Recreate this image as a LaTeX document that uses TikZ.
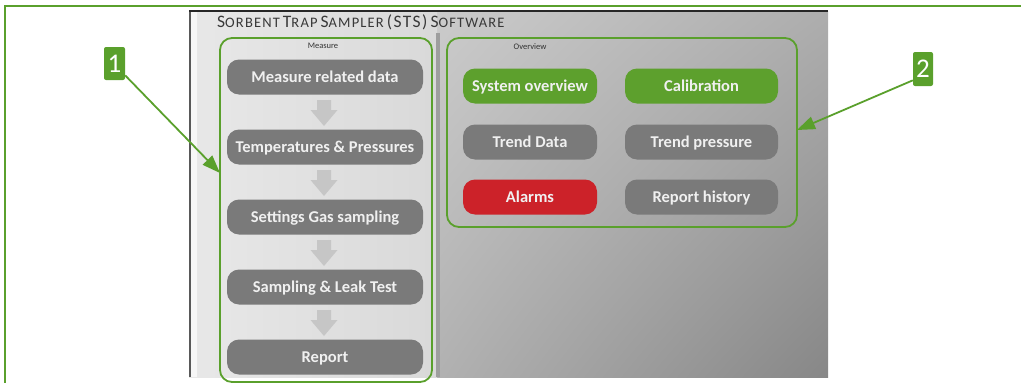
\documentclass[tikz,border=0pt]{standalone}
\usepackage{fontspec}
\setmainfont{Carlito}
\usetikzlibrary{arrows.meta,shadings}
\definecolor{fgreen}{HTML}{5AA02C}
\definecolor{bgreen}{HTML}{5DA02D}
\definecolor{bgrey}{HTML}{7A7A7A}
\definecolor{bred}{HTML}{CC2229}
\definecolor{agrey}{HTML}{C6C6C6}
\newcommand\mysc[2]{{\fontsize{17.5}{17.5}\selectfont #1}{\fontsize{14.5}{14.5}\selectfont #2}}
\tikzset{
  frame/.style={draw=fgreen, line width=1.3pt},
  panel/.style={draw=fgreen, line width=1.8pt, rounded corners=12pt, inner sep=0pt},
  btn/.style={rounded corners=12pt, inner sep=0pt, minimum height=35pt, text=white!94!black,
    text height=12.5pt, text depth=1.5pt,
    font=\fontsize{16.5}{16.5}\selectfont\bfseries},
  gbtn/.style={btn, fill=bgrey},
  grbtn/.style={btn, fill=bgreen},
  rbtn/.style={btn, fill=bred},
  badge/.style={fill=fgreen, rounded corners=2pt, inner sep=0pt, text=white,
    font=\fontsize{27}{27}\selectfont},
  callout/.style={draw=fgreen, line width=1.8pt, -{Triangle[length=18pt,width=13pt]}},
  smalllabel/.style={font=\fontsize{8.5}{8.5}\selectfont, text=black!80, inner sep=0pt},
  flowarrow/.style={fill=agrey}
}
\begin{document}
\begin{tikzpicture}[x=1pt,y=-1pt]
\useasboundingbox (0,0) rectangle (1021,383);
% screenshot background
\shade[upper left=black!13, upper right=black!32, lower left=black!20, lower right=black!47]
  (189,11) rectangle (828,377);
\shade[left color=black!9, right color=black!15] (189,11) rectangle (437,377);
\fill[black!3] (191,11) rectangle (197,377);
\fill[black!65] (189,11) rectangle (191,377);
\fill[black!85] (189,10) rectangle (828,12);
\fill[black!38] (436,33) rectangle (440,377);
% outer frame
\draw[frame] (5,383) -- (5,6) -- (1021,6);
% title
\node[anchor=west, inner sep=0pt, text=black!78] (title) at (217,22)
  {\addfontfeature{LetterSpace=8}\mysc{S}{ORBENT} \mysc{T}{RAP} \mysc{S}{AMPLER} \mysc{(STS)}{} \mysc{S}{OFTWARE}};
% panels
\node[panel, minimum width=212pt, minimum height=344pt] (P1) at (326,210) {};
\node[panel, minimum width=350pt, minimum height=189pt] (P2) at (622,132.5) {};
\node[smalllabel] (mlab) at (323,46) {Measure};
\node[smalllabel] (olab) at (530,47) {Overview};
% flow arrows
\foreach \yy in {100,170,240,310}{
  \fill[flowarrow, shift={(324,\yy)}] (-7,0) -- (7,0) -- (7,10) -- (13.5,10) -- (0,26)
    -- (-13.5,10) -- (-7,10) -- cycle;
}
% left buttons
\node[gbtn, minimum width=196pt] (m1) at (325,77) {Measure related data};
\node[gbtn, minimum width=196pt] (m2) at (325,147) {Temperatures \& Pressures};
\node[gbtn, minimum width=196pt] (m3) at (325,217) {Settings Gas sampling};
\node[gbtn, minimum width=196pt] (m4) at (325,287) {Sampling \& Leak Test};
\node[gbtn, minimum width=196pt] (m5) at (325,357) {Report};
% right buttons
\node[grbtn, minimum width=134pt] (o1) at (530,86) {System overview};
\node[grbtn, minimum width=153pt] (o2) at (701.5,86) {Calibration};
\node[gbtn, minimum width=134pt] (o3) at (530,142) {Trend Data};
\node[gbtn, minimum width=153pt] (o4) at (701.5,142) {Trend pressure};
\node[rbtn, minimum width=134pt] (o5) at (530,197) {Alarms};
\node[gbtn, minimum width=153pt] (o6) at (701.5,197) {Report history};
% badges
\node[badge, minimum width=21pt, minimum height=33pt] (b1) at (114.5,63.5) {1};
\node[badge, minimum width=20pt, minimum height=34pt] (b2) at (923,69) {2};
\coordinate (t1) at (220,173);
\coordinate (t2) at (797,130);
\draw[callout] (b1.312) -- (t1);
\draw[callout] (b2.228) -- (t2);
\end{tikzpicture}
\end{document}
